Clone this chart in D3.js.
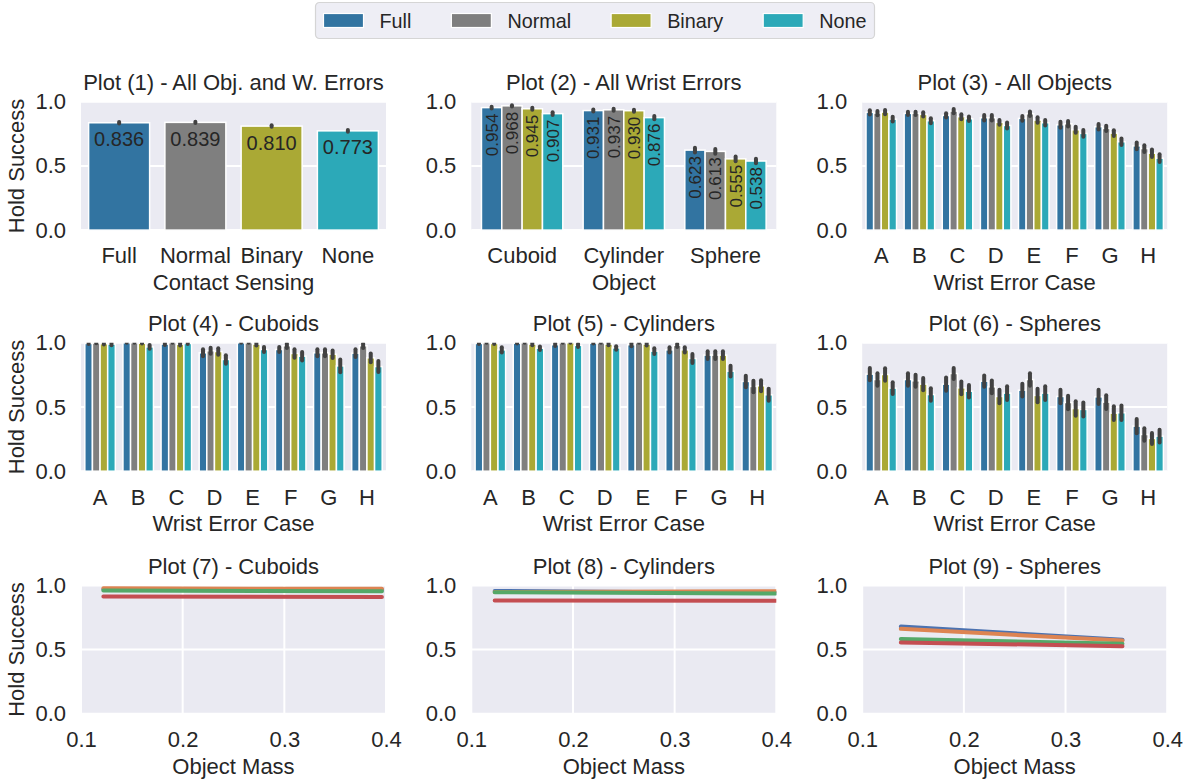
<!DOCTYPE html>
<html>
<head>
<meta charset="utf-8">
<script src="https://cdn.jsdelivr.net/npm/d3@7"></script>
<style>
  body { margin: 0; background: #ffffff; }
  svg { display: block; }
</style>
</head>
<body>
<svg id="chart" width="1190" height="781"></svg>
<script>
// ---------- data ----------
const sensing = ["Full", "Normal", "Binary", "None"];
const sensingColors = ["#3274a1", "#7f7f7f", "#aaa935", "#2ca9b8"];
const objects = ["Cuboid", "Cylinder", "Sphere"];
const wristCases = ["A", "B", "C", "D", "E", "F", "G", "H"];
const yTicks = [0, 0.5, 1.0];
const massTicks = [0.1, 0.2, 0.3, 0.4];

// Plot 1: mean hold success per sensing mode, with CI half-width
const overallMean = [0.836, 0.839, 0.810, 0.773];
const overallErr  = [0.005, 0.005, 0.006, 0.007];

// Plot 2: [sensing][object]
const byObjectMean = [
  [0.954, 0.931, 0.623],
  [0.968, 0.937, 0.613],
  [0.945, 0.930, 0.555],
  [0.907, 0.876, 0.538]
];
const byObjectErr = [
  [0.007, 0.008, 0.018],
  [0.005, 0.008, 0.018],
  [0.008, 0.008, 0.018],
  [0.010, 0.012, 0.018]
];

// Plot 3: all objects, [sensing][wrist case]
const allObjMean = [
  [0.917, 0.909, 0.893, 0.875, 0.870, 0.820, 0.805, 0.656],
  [0.911, 0.909, 0.927, 0.875, 0.906, 0.828, 0.792, 0.635],
  [0.919, 0.901, 0.883, 0.839, 0.857, 0.781, 0.755, 0.599],
  [0.864, 0.852, 0.867, 0.815, 0.836, 0.753, 0.688, 0.560]
];
const allObjErr = [
  [0.017, 0.013, 0.017, 0.021, 0.019, 0.023, 0.021, 0.027],
  [0.016, 0.013, 0.017, 0.021, 0.017, 0.021, 0.021, 0.026],
  [0.017, 0.017, 0.019, 0.019, 0.021, 0.023, 0.023, 0.029],
  [0.019, 0.019, 0.017, 0.023, 0.021, 0.026, 0.026, 0.030]
];

// Plot 4: cuboids
const cuboidMean = [
  [0.995, 1.000, 0.990, 0.922, 1.000, 0.948, 0.922, 0.919],
  [0.998, 1.000, 1.000, 0.938, 1.000, 0.977, 0.922, 0.977],
  [0.993, 0.997, 0.988, 0.932, 0.990, 0.917, 0.911, 0.883],
  [0.990, 0.968, 0.995, 0.870, 0.948, 0.896, 0.820, 0.815]
];
const cuboidErr = [
  [0.005, 0.000, 0.008, 0.027, 0.000, 0.020, 0.027, 0.030],
  [0.002, 0.000, 0.000, 0.023, 0.000, 0.017, 0.027, 0.017],
  [0.007, 0.003, 0.010, 0.025, 0.012, 0.033, 0.029, 0.034],
  [0.010, 0.014, 0.005, 0.033, 0.020, 0.033, 0.050, 0.043]
];

// Plot 5: cylinders
const cylinderMean = [
  [0.995, 0.997, 0.985, 0.997, 0.985, 0.945, 0.904, 0.699],
  [1.000, 1.000, 1.000, 1.000, 1.000, 0.980, 0.904, 0.660],
  [0.995, 0.990, 1.000, 0.990, 0.990, 0.945, 0.904, 0.665],
  [0.945, 0.958, 0.980, 0.960, 0.935, 0.878, 0.779, 0.595]
];
const cylinderErr = [
  [0.005, 0.003, 0.010, 0.003, 0.012, 0.020, 0.030, 0.045],
  [0.000, 0.000, 0.000, 0.000, 0.000, 0.012, 0.030, 0.045],
  [0.005, 0.010, 0.000, 0.010, 0.012, 0.020, 0.030, 0.043],
  [0.020, 0.014, 0.012, 0.014, 0.023, 0.035, 0.042, 0.047]
];

// Plot 6: spheres
const sphereMean = [
  [0.756, 0.714, 0.678, 0.701, 0.631, 0.582, 0.579, 0.351],
  [0.714, 0.704, 0.761, 0.657, 0.714, 0.535, 0.538, 0.286],
  [0.753, 0.678, 0.649, 0.582, 0.590, 0.488, 0.452, 0.255],
  [0.647, 0.597, 0.623, 0.608, 0.608, 0.481, 0.455, 0.273]
];
const sphereErr = [
  [0.047, 0.049, 0.052, 0.044, 0.050, 0.053, 0.056, 0.056],
  [0.049, 0.047, 0.043, 0.049, 0.049, 0.052, 0.053, 0.049],
  [0.049, 0.047, 0.049, 0.053, 0.053, 0.056, 0.053, 0.043],
  [0.046, 0.049, 0.049, 0.053, 0.053, 0.055, 0.057, 0.049]
];

// Plots 7-9: fitted hold success vs. object mass, one line per sensing mode
const lineColors = ["#4c72b0", "#dd8452", "#55a868", "#c44e52"];
const cuboidMassRange   = [0.122, 0.396];
const cylinderMassRange = [0.123, 0.400];
const sphereMassRange   = [0.138, 0.356];
const cuboidFit = [
  [0.970, 0.966],
  [0.977, 0.973],
  [0.960, 0.955],
  [0.914, 0.910]
];
const cylinderFit = [
  [0.957, 0.940],
  [0.948, 0.954],
  [0.947, 0.937],
  [0.883, 0.881]
];
const sphereFit = [
  [0.679, 0.576],
  [0.662, 0.570],
  [0.583, 0.545],
  [0.556, 0.527]
];

// ---------- layout ----------
const FONT = "'Liberation Sans', Arial, Helvetica, sans-serif";
const TEXT = "#262626";
const BG = "#eaeaf2";
const colLeft = [81, 471.3, 862.2];
const rowTop = [101.7, 342.8, 585.4];
const PW = 305, PH = 128.4;
const FS = 22;

const svg = d3.select("#chart");
const y = d3.scaleLinear().domain([0, 1]).range([PH, 0]);

let clipId = 0;
function makePanel(row, col, title, xLabel, withYLabel) {
  const g = svg.append("g").attr("transform", `translate(${colLeft[col]},${rowTop[row]})`);
  const id = "clip" + (clipId++);
  g.append("clipPath").attr("id", id).append("rect").attr("width", PW).attr("height", PH);
  g.append("rect").attr("class", "bg").attr("width", PW).attr("height", PH).attr("fill", BG);
  g.append("g").attr("class", "grid").selectAll("line").data(yTicks).join("line")
    .attr("x1", 0).attr("x2", PW)
    .attr("y1", d => y(d)).attr("y2", d => y(d))
    .attr("stroke", "#ffffff").attr("stroke-width", 2);

  const ya = g.append("g").call(d3.axisLeft(y).tickValues(yTicks).tickFormat(d3.format(".1f")).tickSize(0).tickPadding(15));
  styleAxis(ya);

  g.append("text").attr("x", PW / 2).attr("y", -11.5).attr("text-anchor", "middle")
    .attr("font-family", FONT).attr("font-size", FS).attr("fill", TEXT).text(title);
  g.append("text").attr("x", PW / 2).attr("y", PH + 60).attr("text-anchor", "middle")
    .attr("font-family", FONT).attr("font-size", FS).attr("fill", TEXT).text(xLabel);
  if (withYLabel) {
    g.append("text").attr("transform", `translate(${23.5 - colLeft[0]},${PH / 2}) rotate(-90)`)
      .attr("text-anchor", "middle").attr("font-family", FONT).attr("font-size", FS)
      .attr("fill", TEXT).text("Hold Success");
  }
  return { g, clip: `url(#${id})` };
}

function styleAxis(a) {
  a.select(".domain").remove();
  a.selectAll("text").attr("font-family", FONT).attr("font-size", FS).attr("fill", TEXT);
}

function xAxis(g, scale, ticks) {
  const ax = d3.axisBottom(scale).tickSize(0).tickPadding(17.7);
  if (ticks) ax.tickValues(ticks).tickFormat(d3.format(".1f"));
  const a = g.append("g").attr("transform", `translate(0,${PH})`).call(ax);
  styleAxis(a);
}

function errorBar(layer, x, m, e) {
  layer.append("line")
    .attr("x1", x).attr("x2", x)
    .attr("y1", y(m - e)).attr("y2", y(m + e))
    .attr("stroke", "#424242").attr("stroke-width", 4).attr("stroke-linecap", "round");
}

// Plot 1: single bar per sensing mode
function simpleBars(p, cats, means, errs) {
  const x = d3.scaleBand().domain(cats).range([0, PW]).paddingInner(0.2).paddingOuter(0.1);
  const bars = p.g.append("g");
  bars.selectAll("rect").data(cats).join("rect")
    .attr("x", d => x(d)).attr("width", x.bandwidth())
    .attr("y", (d, i) => y(means[i])).attr("height", (d, i) => PH - y(means[i]))
    .attr("fill", (d, i) => sensingColors[i]).attr("stroke", "#ffffff").attr("stroke-width", 1.5);
  const eb = p.g.append("g").attr("clip-path", p.clip);
  cats.forEach((c, i) => errorBar(eb, x(c) + x.bandwidth() / 2, means[i], errs[i]));
  p.g.append("g").selectAll("text").data(cats).join("text")
    .attr("x", d => x(d) + x.bandwidth() / 2)
    .attr("y", (d, i) => y(means[i]) + 23.5)
    .attr("text-anchor", "middle").attr("font-family", FONT).attr("font-size", 20)
    .attr("fill", TEXT).text((d, i) => d3.format(".3f")(means[i]));
  xAxis(p.g, x);
}

// Grouped bars: one group per category, one bar per sensing mode
function groupedBars(p, cats, means, errs, labelled) {
  const x0 = d3.scaleBand().domain(cats).range([0, PW]).paddingInner(0.2).paddingOuter(0.1);
  const x1 = d3.scaleBand().domain(sensing).range([0, x0.bandwidth()]);
  const bars = p.g.append("g");
  const eb = p.g.append("g").attr("clip-path", p.clip);
  const lab = p.g.append("g");
  sensing.forEach((s, si) => {
    bars.append("g").selectAll("rect").data(cats).join("rect")
      .attr("x", d => x0(d) + x1(s)).attr("width", x1.bandwidth())
      .attr("y", (d, ci) => y(means[si][ci])).attr("height", (d, ci) => PH - y(means[si][ci]))
      .attr("fill", sensingColors[si]).attr("stroke", "#ffffff").attr("stroke-width", 1.5);
    cats.forEach((c, ci) => errorBar(eb, x0(c) + x1(s) + x1.bandwidth() / 2, means[si][ci], errs[si][ci]));
    if (labelled) {
      cats.forEach((c, ci) => {
        lab.append("text")
          .attr("transform", `translate(${x0(c) + x1(s) + x1.bandwidth() / 2},${y(means[si][ci]) + 6}) rotate(-90)`)
          .attr("dy", "0.36em").attr("text-anchor", "end")
          .attr("font-family", FONT).attr("font-size", 17).attr("fill", TEXT)
          .text(d3.format(".3f")(means[si][ci]));
      });
    }
  });
  xAxis(p.g, x0);
}

// Mass trend lines
function massLines(p, range, fits) {
  const x = d3.scaleLinear().domain([0.1, 0.4]).range([0, PW]);
  p.g.select("g.grid").selectAll("line.v").data(massTicks).join("line")
    .attr("class", "v")
    .attr("x1", d => x(d)).attr("x2", d => x(d)).attr("y1", 0).attr("y2", PH)
    .attr("stroke", "#ffffff").attr("stroke-width", 2);
  const line = d3.line().x(d => x(d[0])).y(d => y(d[1]));
  const lg = p.g.append("g").attr("clip-path", p.clip);
  fits.forEach((f, i) => {
    lg.append("path")
      .attr("d", line([[range[0], f[0]], [range[1], f[1]]]))
      .attr("fill", "none").attr("stroke", lineColors[i]).attr("stroke-width", 4)
      .attr("stroke-linecap", "round");
  });
  xAxis(p.g, x, massTicks);
}

// ---------- panels ----------
simpleBars(makePanel(0, 0, "Plot (1) - All Obj. and W. Errors", "Contact Sensing", true), sensing, overallMean, overallErr);
groupedBars(makePanel(0, 1, "Plot (2) - All Wrist Errors", "Object", false), objects, byObjectMean, byObjectErr, true);
groupedBars(makePanel(0, 2, "Plot (3) - All Objects", "Wrist Error Case", false), wristCases, allObjMean, allObjErr, false);
groupedBars(makePanel(1, 0, "Plot (4) - Cuboids", "Wrist Error Case", true), wristCases, cuboidMean, cuboidErr, false);
groupedBars(makePanel(1, 1, "Plot (5) - Cylinders", "Wrist Error Case", false), wristCases, cylinderMean, cylinderErr, false);
groupedBars(makePanel(1, 2, "Plot (6) - Spheres", "Wrist Error Case", false), wristCases, sphereMean, sphereErr, false);
massLines(makePanel(2, 0, "Plot (7) - Cuboids", "Object Mass", true), cuboidMassRange, cuboidFit);
massLines(makePanel(2, 1, "Plot (8) - Cylinders", "Object Mass", false), cylinderMassRange, cylinderFit);
massLines(makePanel(2, 2, "Plot (9) - Spheres", "Object Mass", false), sphereMassRange, sphereFit);

// ---------- legend ----------
(function legend() {
  const LFS = 19.8, handleW = 40, handleH = 14, textPad = 16, colGap = 40, pad = 8;
  const lg = svg.append("g");
  const box = lg.append("rect").attr("y", 2.5).attr("height", 36).attr("rx", 4)
    .attr("fill", "#eeeef5").attr("stroke", "#d5d5d5").attr("stroke-width", 1.2);
  let cx = pad;
  sensing.forEach((s, i) => {
    lg.append("rect").attr("x", cx).attr("y", 13.5).attr("width", handleW).attr("height", handleH)
      .attr("fill", sensingColors[i]).attr("stroke", "#ffffff").attr("stroke-width", 1.2);
    const t = lg.append("text").attr("x", cx + handleW + textPad).attr("y", 27.8)
      .attr("font-family", FONT).attr("font-size", LFS).attr("fill", TEXT).text(s);
    cx += handleW + textPad + t.node().getComputedTextLength();
    if (i < sensing.length - 1) cx += colGap;
  });
  const w = cx + pad;
  box.attr("x", 0).attr("width", w);
  lg.attr("transform", `translate(${595 - w / 2},0)`);
})();
</script>
</body>
</html>
